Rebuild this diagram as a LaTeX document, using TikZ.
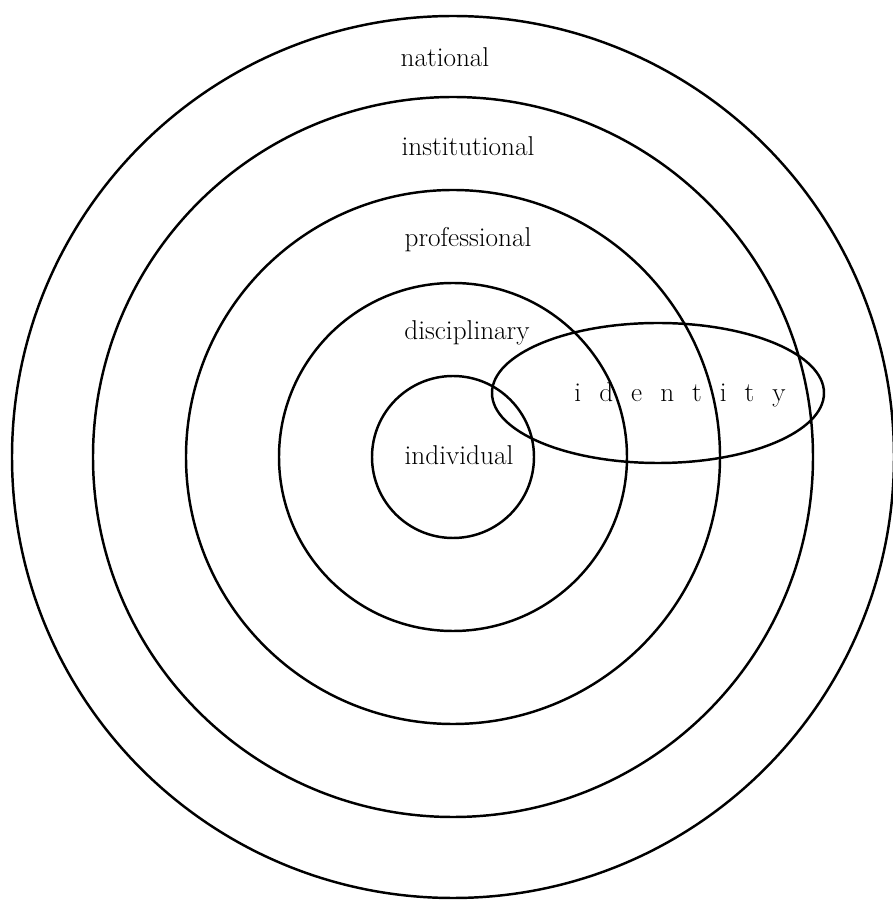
\documentclass[tikz,border=0pt]{standalone}
\usepackage{tikz}
\usetikzlibrary{positioning, shapes.geometric}

\begin{document}
\begin{tikzpicture}[
            ring/.style={circle, draw, line width=1.4pt, inner sep=0pt},
            oval/.style={ellipse, draw, line width=1.4pt, inner sep=0pt, minimum width=6.64cm, minimum height=2.8cm},
            lbl/.style={font=\fontsize{15.5}{18}\selectfont, inner sep=0pt}
        ]
            \useasboundingbox (0,0) rectangle (17.86,18);
            \coordinate (c) at (9.06,8.86);
            
            \node[ring, minimum size=17.64cm] (nat) at (c) {};
            \node[ring, minimum size=14.4cm] (inst) at (c) {};
            \node[ring, minimum size=10.68cm] (prof) at (c) {};
            \node[ring, minimum size=6.96cm] (disc) at (c) {};
            \node[ring, minimum size=3.24cm] (indiv) at (c) {};
            \node[oval] (ident) at (13.16,10.14) {};
            
            \node[lbl] (natlbl) at (8.9,16.86) {national};
            \node[lbl] (instlbl) at (9.36,15.08) {institutional};
            \node[lbl] (proflbl) at (9.36,13.2) {professional};
            \node[lbl] (disclbl) at (9.34,11.34) {disciplinary};
            \node[lbl] (indivlbl) at (9.18,8.9) {individual};
            \node[lbl] (identlbl) at (13.6,10.1) {\spaceskip=0.36cm i d e n t i t y};
            
        \end{tikzpicture}
\end{document}
